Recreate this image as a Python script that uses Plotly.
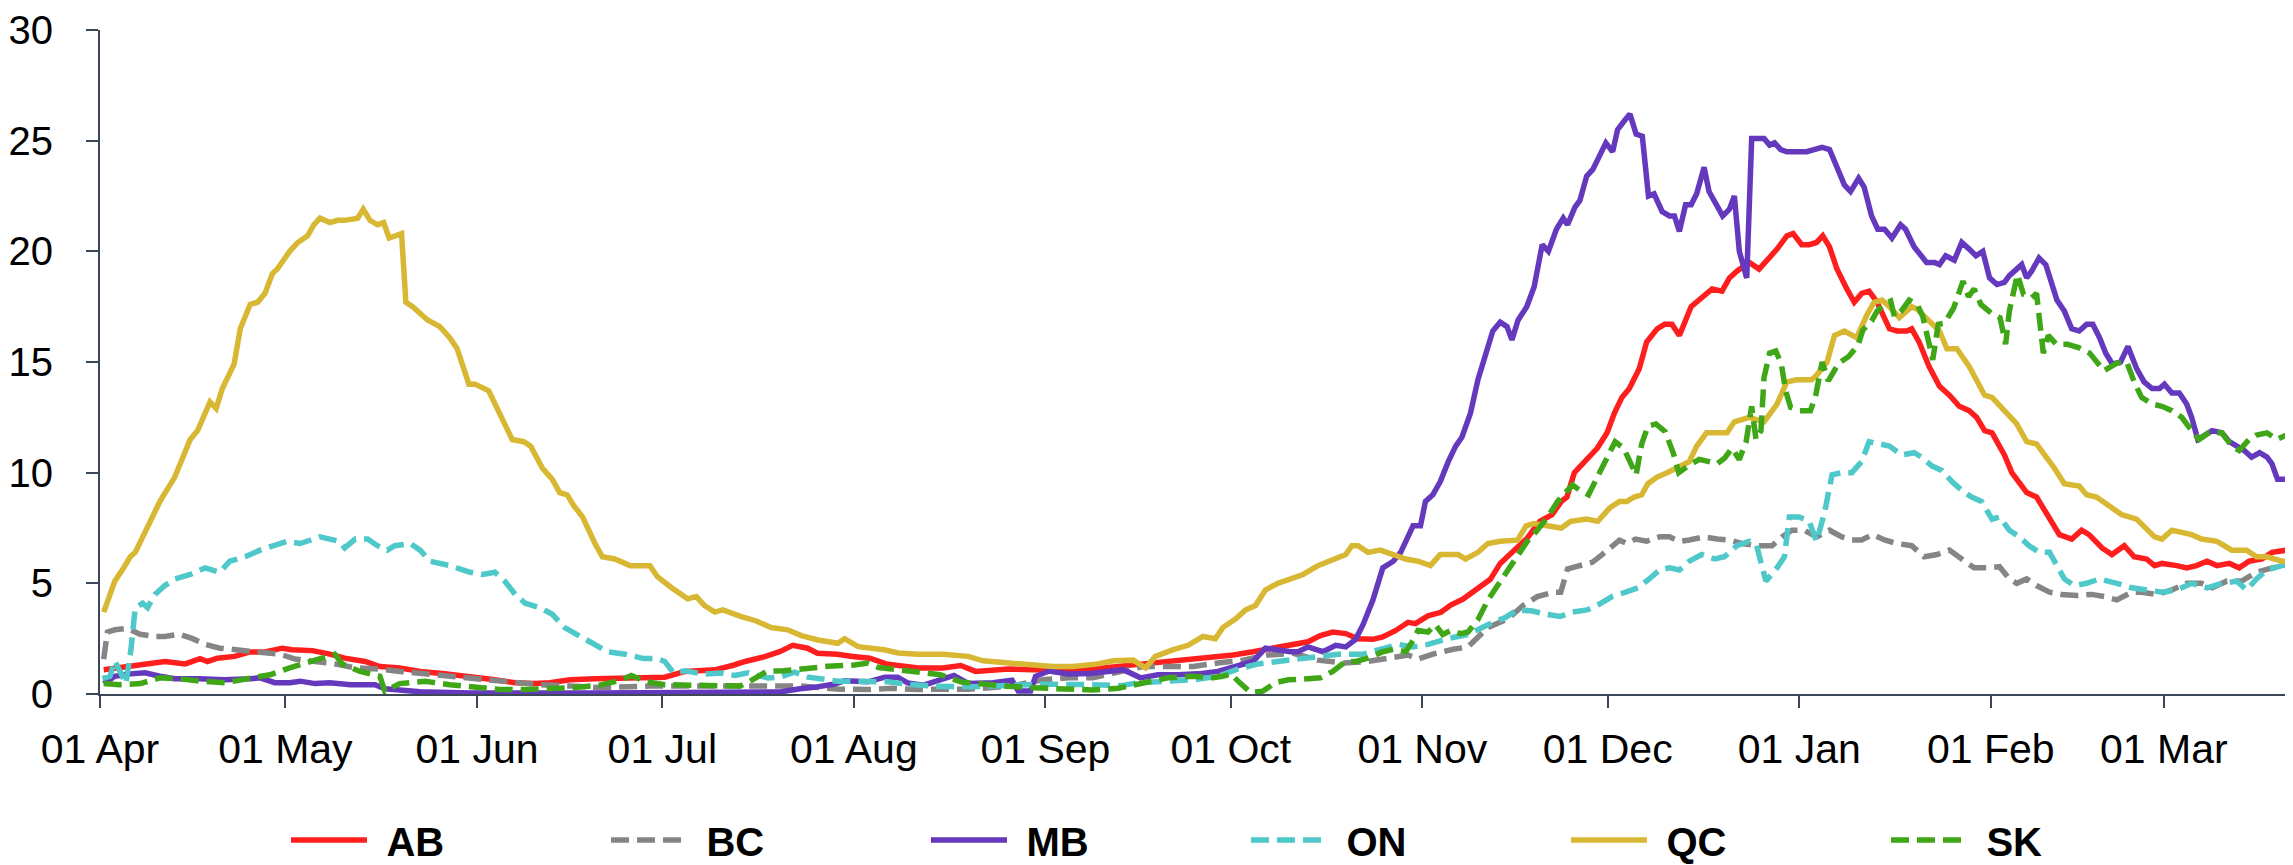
import pandas as pd
import plotly.graph_objects as go

START = "2020-04-01"

AB_days = [0.6,4.9,8.1,10.5,13.8,16.2,17.4,19.0,21.8,24.3,26.7,29.5,31.1,34.4,37.2,39.6,42.9,45.3,48.5,51.8,55.8,59.9,63.9,67.2,70.4,72.8,76.1,80.1,84.1,87.4,91.4,94.7,99.5,102.5,104.4,107.6,110.0,112.1,114.5,116.1,119.3,121.8,124.6,127.2,132.4,136.4,139.3,141.7,147.0,151.0,156.7,162.3,166.4,169.6,174.5,179.3,183.4,186.6,189.8,193.1,195.5,197.5,199.5,201.6,203.6,206.0,207.6,209.7,211.7,212.9,214.9,217.0,218.6,220.6,222.6,225.0,226.6,229.2,231.0,233.0,235.0,236.5,237.4,238.6,240.3,242.3,243.9,245.1,246.3,247.5,249.1,250.3,252.0,253.2,254.4,255.6,257.5,259.2,260.9,262.5,263.7,264.9,266.9,268.5,270.2,271.4,273.0,274.0,275.4,276.6,277.8,278.8,279.9,281.1,282.7,283.9,285.1,286.3,287.6,289.6,290.8,292.4,293.2,294.4,296.0,297.7,299.3,300.9,302.5,303.7,305.0,306.2,308.2,309.4,311.0,311.8,313.4,315.1,317.1,319.1,320.7,321.9,324.0,325.6,327.6,329.2,331.2,332.5,333.7,336.1,337.7,339.3,341.0,342.6,344.6,346.2,347.8,349.9,351.5,353.9,355.7]
AB_vals = [1.1,1.24,1.36,1.47,1.36,1.6,1.47,1.62,1.7,1.9,1.9,2.07,2.0,1.96,1.8,1.62,1.47,1.24,1.18,1.02,0.91,0.8,0.64,0.51,0.47,0.51,0.64,0.69,0.73,0.73,0.76,1.02,1.09,1.3,1.47,1.69,1.91,2.2,2.07,1.84,1.8,1.69,1.62,1.36,1.18,1.18,1.29,1.02,1.13,1.09,1.09,1.18,1.29,1.36,1.47,1.62,1.76,1.91,2.07,2.24,2.36,2.64,2.8,2.73,2.5,2.47,2.58,2.87,3.24,3.18,3.53,3.69,4.02,4.29,4.73,5.18,5.9,6.55,7.05,7.8,8.1,8.7,8.9,10.0,10.5,11.1,11.8,12.7,13.4,13.8,14.7,15.9,16.5,16.7,16.7,16.2,17.5,17.9,18.3,18.2,18.8,19.1,19.5,19.2,19.7,20.1,20.7,20.8,20.3,20.3,20.4,20.7,20.2,19.2,18.3,17.7,18.1,18.2,17.7,16.5,16.4,16.4,16.5,15.9,14.8,13.9,13.5,13.0,12.8,12.5,11.9,11.8,10.8,10.0,9.4,9.1,8.9,8.1,7.2,7.0,7.4,7.2,6.6,6.3,6.7,6.2,6.1,5.8,5.9,5.8,5.7,5.8,6.0,5.8,5.9,5.7,6.0,6.1,6.4,6.5,6.6]

BC_days = [0.6,1.2,2.4,4.4,6.5,8.9,10.5,12.9,15.0,17.0,19.4,21.8,24.3,26.7,29.1,31.6,34.8,38.0,41.3,45.3,48.5,52.6,56.6,61.5,66.3,71.2,76.1,80.9,89.0,97.1,105.2,113.3,119.7,124.3,128.3,132.4,136.4,140.5,144.5,148.6,152.6,156.7,160.7,164.8,168.8,172.8,176.9,180.9,185.0,189.0,193.1,197.1,201.2,205.2,209.3,211.7,213.3,215.7,219.0,221.4,224.6,227.9,230.3,232.6,235.3,236.4,237.5,239.5,241.5,243.1,244.5,245.9,247.1,248.5,250.3,252.4,254.0,255.6,257.2,259.6,261.7,263.7,265.7,268.1,270.6,272.2,273.8,275.8,277.8,279.9,281.9,283.5,285.1,286.9,288.8,290.8,293.2,295.2,297.3,299.3,301.3,303.3,305.4,307.4,309.0,310.2,311.8,313.4,315.5,317.5,319.9,322.3,324.4,326.4,328.8,330.4,332.9,335.3,337.7,340.1,341.8,344.2,346.6,349.0,351.5,353.9,355.7]
BC_vals = [1.58,2.8,2.9,2.96,2.7,2.6,2.6,2.7,2.5,2.24,2.07,2.0,1.9,1.84,1.8,1.58,1.47,1.36,1.18,1.13,1.02,0.91,0.8,0.69,0.58,0.42,0.36,0.29,0.36,0.37,0.36,0.36,0.22,0.2,0.26,0.2,0.22,0.22,0.29,0.42,0.64,0.73,0.73,1.02,1.24,1.24,1.24,1.4,1.53,1.76,1.84,1.53,1.4,1.47,1.62,1.76,1.58,1.8,2.02,2.13,3.0,3.4,4.0,4.4,4.6,4.6,5.65,5.8,5.95,6.3,6.6,6.95,6.8,7.0,6.9,7.1,7.1,6.9,6.96,7.1,7.0,6.96,6.8,6.7,6.7,7.1,7.4,7.4,7.1,7.4,7.1,6.96,6.96,7.2,6.96,6.8,6.7,6.2,6.3,6.5,6.1,5.7,5.7,5.75,5.2,5.0,5.2,4.9,4.6,4.5,4.45,4.5,4.4,4.25,4.6,4.6,4.5,4.7,5.0,5.0,4.8,5.1,5.1,5.5,5.7,5.8,5.9]

MB_days = [0.6,2.4,4.9,7.3,9.7,12.1,16.2,20.2,24.3,25.9,28.3,30.7,32.4,34.8,37.2,40.5,44.5,46.1,51.8,60,80,100,110.2,113.3,115.6,118.9,120.5,124.3,127.0,129.1,130.7,133.3,135.9,138.2,140.5,144.5,147.6,148.6,150.6,151.4,153.6,156.7,160.3,163.1,165.6,168.4,171.2,174.5,177.7,180.9,183.8,186.6,188.6,190.6,192.7,193.9,195.5,197.9,200.0,201.6,203.2,204.4,206.0,207.6,209.3,210.5,212.5,213.7,214.5,215.7,216.9,218.2,219.4,220.4,221.8,223.0,224.2,225.4,226.6,227.7,228.5,229.5,230.9,232.1,233.4,234.4,235.7,236.8,237.5,238.7,239.5,240.6,241.6,242.8,243.7,244.8,245.6,246.7,247.6,248.6,249.6,250.6,251.5,252.8,254.0,254.8,255.6,256.6,257.5,258.4,259.6,260.4,261.7,262.6,263.7,264.5,265.3,266.5,267.3,269.3,270.2,271.0,272.0,273.0,276.2,277.4,278.7,279.9,281.1,282.3,283.3,284.6,285.5,286.7,287.7,288.8,290.0,291.4,292.2,293.6,295.6,296.9,297.7,298.7,300.1,301.3,302.5,303.6,304.7,305.8,307.0,308.2,309.0,310.2,311.0,311.8,312.6,313.8,314.9,316.7,317.9,319.1,320.3,321.5,322.5,323.6,324.6,325.7,327.0,328.2,329.6,330.8,332.1,333.3,334.1,335.3,336.5,337.7,338.5,339.5,340.5,341.8,343.4,344.6,345.8,347.0,348.2,349.5,350.7,351.5,352.4,353.9,355.1,355.9]
MB_vals = [0.47,0.8,0.91,0.96,0.8,0.69,0.69,0.64,0.69,0.73,0.51,0.51,0.58,0.47,0.51,0.42,0.42,0.24,0.1,0.05,0.05,0.05,0.1,0.24,0.3,0.45,0.6,0.55,0.76,0.76,0.5,0.4,0.66,0.84,0.48,0.51,0.62,0.13,0.13,0.8,1.04,0.9,0.93,1.02,1.1,0.73,0.87,0.87,0.91,1.02,1.24,1.47,2.07,1.98,1.91,1.91,2.13,1.91,2.2,2.13,2.47,3.13,4.24,5.7,6.0,6.4,7.6,7.6,8.7,9.0,9.6,10.5,11.2,11.6,12.7,14.2,15.4,16.4,16.8,16.6,16.0,16.9,17.5,18.4,20.3,20.0,21.0,21.5,21.2,22.0,22.3,23.4,23.7,24.4,24.9,24.5,25.5,25.9,26.2,25.3,25.2,22.5,22.6,21.8,21.6,21.6,20.9,22.1,22.1,22.6,23.8,22.7,22.0,21.6,21.9,22.5,20.0,18.8,25.1,25.1,24.8,24.9,24.6,24.5,24.5,24.6,24.7,24.6,23.8,23.0,22.7,23.3,22.9,21.6,21.0,21.0,20.6,21.2,21.0,20.2,19.5,19.5,19.4,19.8,19.6,20.4,20.1,19.8,20.0,18.8,18.5,18.6,18.9,19.2,19.4,18.8,19.1,19.7,19.4,17.8,17.3,16.5,16.4,16.7,16.7,16.1,15.4,14.9,15.0,15.7,14.7,14.1,13.8,13.8,14.0,13.6,13.6,13.1,12.5,11.5,11.7,11.9,11.8,11.4,11.2,11.0,10.7,10.9,10.7,10.4,9.7,9.7,9.9,10.1]

ON_days = [0.4,1.6,2.4,3.4,4.2,5.0,5.7,6.9,7.7,8.9,10.5,12.1,14.6,17.0,19.4,21.0,23.5,25.9,28.3,30.3,32.4,33.6,35.6,37.2,38.7,39.6,41.3,43.3,44.9,46.5,47.7,50.2,51.8,53.4,56.6,59.9,61.9,63.9,65.5,67.2,68.8,71.2,73.2,75.2,77.7,80.1,82.2,85.0,88.0,90.2,91.4,92.8,94.7,97.5,100.5,102.7,104.9,108.1,110.2,112.4,114.6,117.3,119.4,124.3,127.5,130.7,135.1,141.5,146.9,152.3,158.8,165.3,168.0,172.8,176.9,180.9,184.2,187.4,190.6,193.9,197.1,200.4,204.4,207.6,210.1,212.5,214.9,218.2,221.4,224.6,227.5,229.4,231.8,234.2,236.3,238.3,240.7,242.6,244.7,246.9,248.9,250.5,252.4,254.0,255.6,257.2,259.2,261.3,262.9,264.9,266.9,268.1,268.9,269.6,271.4,272.6,273.4,275.0,276.6,277.8,279.1,280.3,281.9,283.5,285.1,286.3,288.0,289.6,291.6,293.6,294.8,296.5,298.1,299.7,301.3,302.9,304.5,306.2,307.4,309.0,310.6,312.2,313.8,315.5,316.7,317.9,319.5,321.5,323.6,325.2,326.4,328.8,331.2,333.7,336.1,338.5,341.0,343.4,345.8,347.4,349.0,350.7,353.1,355.7]
ON_vals = [0.7,0.8,1.5,0.9,0.47,2.0,3.9,4.1,3.9,4.5,4.9,5.2,5.4,5.7,5.5,6.0,6.2,6.5,6.7,6.9,6.8,6.9,7.1,7.0,6.9,6.6,7.0,7.0,6.7,6.5,6.7,6.8,6.5,6.0,5.8,5.5,5.4,5.5,5.1,4.5,4.1,3.9,3.6,3.0,2.6,2.2,1.9,1.8,1.6,1.6,1.47,0.95,1.05,0.9,0.95,0.84,0.96,0.72,0.78,0.99,0.76,0.66,0.58,0.56,0.55,0.44,0.35,0.33,0.4,0.44,0.43,0.38,0.51,0.58,0.64,0.8,1.13,1.36,1.47,1.53,1.69,1.8,1.8,2.07,2.24,2.13,2.24,2.51,2.69,3.13,3.47,3.8,3.75,3.6,3.5,3.7,3.8,4.05,4.4,4.6,4.8,5.15,5.6,5.7,5.6,6.0,6.3,6.1,6.2,6.7,6.9,6.7,5.9,5.1,5.7,6.2,8.0,8.0,7.8,6.9,8.2,9.9,10.0,10.0,10.5,11.4,11.3,11.2,10.8,10.9,10.7,10.3,10.1,9.6,9.2,8.9,8.7,7.9,8.0,7.4,7.1,6.7,6.4,6.4,5.8,5.2,4.9,5.0,5.2,5.1,5.0,4.8,4.7,4.6,4.7,5.0,4.8,5.0,5.1,4.7,5.2,5.6,5.8,6.0]

QC_days = [0.6,2.4,3.6,4.9,5.7,7.7,9.7,12.1,14.6,15.8,17.8,18.8,19.8,21.7,22.7,24.3,25.5,26.7,27.9,28.7,30.7,32.0,33.6,34.6,35.6,37.2,38.4,39.6,40.9,41.7,42.6,43.7,44.9,45.9,46.8,48.8,49.5,50.6,53.0,55.0,56.6,57.8,59.7,60.7,62.9,64.7,66.7,68.6,69.7,71.6,73.2,74.4,75.6,76.7,78.1,80.1,81.3,83.3,85.8,89.0,90.2,92.5,95.1,96.5,97.8,99.5,100.8,103.8,106.2,108.6,111.3,113.5,116.2,119.4,120.5,122.7,126.9,129.2,132.4,136.4,140.5,142.9,147.0,151.0,154.2,157.5,161.5,164.0,167.2,169.2,170.8,173.7,176.1,178.5,180.5,181.7,183.8,185.4,187.0,188.6,190.6,192.7,194.7,197.1,199.5,201.6,202.6,203.6,205.2,207.2,209.3,211.3,213.3,215.3,216.9,219.8,221.0,223.0,224.6,226.6,229.4,230.8,232.0,234.2,236.5,238.0,240.6,242.4,244.3,245.9,247.1,248.3,249.5,250.5,252.0,253.6,255.2,257.2,258.4,260.0,261.7,263.3,264.5,266.9,269.3,271.4,273.0,274.6,277.0,277.8,279.5,280.7,282.3,284.3,285.9,287.1,288.4,289.6,291.2,293.2,294.0,295.6,297.7,298.9,300.5,302.5,305.0,306.2,307.8,310.2,311.8,313.4,316.3,317.9,320.3,321.5,323.1,325.2,327.2,329.6,332.5,333.7,335.3,336.9,338.5,340.1,342.6,345.0,347.4,349.0,350.7,353.1,355.7]
QC_vals = [3.7,5.1,5.6,6.2,6.4,7.6,8.7,9.8,11.5,11.9,13.2,12.9,13.8,14.9,16.5,17.6,17.7,18.1,19.0,19.2,20.0,20.4,20.7,21.2,21.5,21.3,21.4,21.4,21.5,21.5,21.9,21.4,21.2,21.3,20.6,20.8,17.7,17.5,16.9,16.6,16.1,15.6,14.0,14.0,13.7,12.6,11.5,11.4,11.2,10.2,9.7,9.1,9.0,8.5,8.0,6.8,6.2,6.1,5.8,5.8,5.3,4.8,4.3,4.4,4.0,3.7,3.8,3.5,3.3,3.0,2.9,2.64,2.44,2.29,2.5,2.14,2.0,1.85,1.8,1.8,1.7,1.5,1.4,1.36,1.24,1.24,1.36,1.5,1.53,1.18,1.7,2.0,2.2,2.6,2.5,3.0,3.4,3.8,4.0,4.7,5.0,5.2,5.4,5.8,6.1,6.3,6.7,6.7,6.4,6.5,6.3,6.1,6.0,5.8,6.3,6.3,6.1,6.4,6.8,6.9,6.95,7.6,7.7,7.6,7.5,7.8,7.9,7.8,8.4,8.7,8.7,8.9,9.0,9.5,9.8,10.0,10.2,10.5,11.2,11.8,11.8,11.8,12.3,12.5,12.3,13.1,14.1,14.2,14.2,14.4,15.0,16.2,16.4,16.1,17.1,17.7,17.8,17.5,17.0,17.5,17.4,17.0,16.4,15.6,15.6,14.8,13.5,13.4,12.9,12.2,11.4,11.3,10.2,9.5,9.4,9.0,8.9,8.5,8.1,7.9,7.1,7.0,7.4,7.3,7.2,7.0,6.9,6.5,6.5,6.2,6.2,6.0,6.0]

SK_days = [0.6,3.2,6.5,9.7,12.9,16.2,20.2,24.3,27.5,30.7,34.0,36.4,38.0,39.2,42.1,45.3,46.1,48.5,52.6,56.6,60.7,64.7,68.8,72.8,76.9,80.9,84.0,86.0,88.2,91.4,95.5,100.3,103.6,105.2,108.0,110.6,113.8,117.8,122.1,124.3,126.0,128.3,132.4,136.0,139.4,142.6,146.9,151.2,156.7,160.7,164.8,168.8,172.8,176.9,180.1,181.7,183.0,184.6,186.2,188.2,190.2,192.3,193.9,195.5,197.5,199.5,201.6,203.2,205.2,207.6,209.3,211.3,212.5,213.3,214.9,216.1,217.3,218.6,220.2,221.4,223.0,224.6,226.2,227.9,229.5,231.0,232.6,234.3,235.9,237.1,238.3,239.5,240.9,242.5,244.0,245.2,246.6,247.5,248.6,249.5,250.5,251.8,253.3,254.6,255.5,257.0,258.8,260.4,261.7,262.9,264.1,265.3,266.4,267.3,268.0,268.8,269.3,270.2,271.2,272.1,272.8,273.6,275.1,276.8,277.6,278.7,279.7,281.4,283.0,284.5,285.3,286.7,287.6,288.8,289.8,290.4,291.5,292.8,294.1,295.0,295.8,296.6,297.5,298.5,300.0,301.5,302.4,303.3,304.4,306.1,307.5,308.4,309.0,310.3,311.3,312.6,313.4,313.9,314.5,315.3,316.6,318.4,320.2,322.0,324.3,326.4,328.0,329.2,330.4,332.1,333.7,335.3,336.9,338.5,339.7,341.3,343.4,345.0,346.2,347.8,349.0,350.7,352.3,353.9,355.5]
SK_vals = [0.47,0.42,0.47,0.73,0.69,0.58,0.51,0.69,0.87,1.18,1.47,1.62,1.8,1.36,1.02,0.8,0.13,0.47,0.58,0.42,0.29,0.2,0.2,0.24,0.29,0.4,0.6,0.84,0.56,0.42,0.4,0.4,0.36,0.58,1.04,1.05,1.15,1.25,1.31,1.4,1.2,1.13,0.98,0.87,0.54,0.45,0.35,0.28,0.2,0.18,0.26,0.47,0.73,0.8,0.73,0.8,0.91,0.47,0.07,0.13,0.51,0.64,0.64,0.69,0.73,1.02,1.47,1.47,1.62,1.91,2.02,1.91,2.42,2.87,2.8,3.13,2.69,2.87,2.73,2.8,3.36,4.24,4.91,5.58,6.24,6.9,7.4,8.0,8.7,9.1,9.45,9.2,9.0,9.9,10.8,11.4,11.1,10.6,9.9,11.3,12.1,12.2,11.85,10.9,10.0,10.3,10.6,10.5,10.4,10.65,11.1,10.6,11.4,13.0,11.5,11.9,14.3,15.4,15.5,14.9,13.7,12.95,12.8,12.8,13.4,15.0,14.15,14.95,15.25,15.75,16.45,16.85,17.3,17.6,17.75,17.05,17.3,17.8,17.6,17.05,16.1,15.1,16.7,16.75,17.45,18.65,17.95,18.3,17.6,17.2,17.0,15.8,17.3,18.95,18.05,17.9,18.1,17.0,15.4,16.2,15.8,15.8,15.65,15.4,14.6,14.95,15.0,14.1,13.4,13.1,13.0,12.8,12.5,11.9,11.5,11.8,11.8,11.2,11.0,11.5,11.7,11.8,11.5,11.7,12.2]

SERIES = ["AB", "BC", "MB", "ON", "QC", "SK"]
COLORS = {"AB": "#FF1E1E", "BC": "#858585", "MB": "#6539BE",
          "ON": "#4FC8CA", "QC": "#D8B733", "SK": "#3FA617"}
DASHES = {"AB": "solid", "BC": "18px,8px", "MB": "solid",
          "ON": "18px,8px", "QC": "solid", "SK": "18px,8px"}
DATA = {"AB": (AB_days, AB_vals), "BC": (BC_days, BC_vals), "MB": (MB_days, MB_vals),
        "ON": (ON_days, ON_vals), "QC": (QC_days, QC_vals), "SK": (SK_days, SK_vals)}

base = pd.Timestamp(START)
FONT = "Liberation Sans, Arial, sans-serif"
AXIS_COLOR = "#3b4656"
LEGEND_PAD = "\u00a0\u200a"

fig = go.Figure()
for name in SERIES:
    d, v = DATA[name]
    x = base + pd.to_timedelta(d, unit="D")
    fig.add_trace(go.Scatter(
        x=x, y=v, mode="lines", name=LEGEND_PAD + name,
        line=dict(color=COLORS[name], width=5.5, dash=DASHES[name]),
    ))

x_end = base + pd.to_timedelta(356.2, unit="D")

fig.update_layout(
    width=2293, height=865,
    margin=dict(l=92, r=0, t=20, b=170),
    paper_bgcolor="white", plot_bgcolor="white",
    font=dict(family=FONT, size=40, color="black"),
    showlegend=True,
    legend=dict(
        orientation="h", x=0.0845, xanchor="left", y=-0.22, yanchor="middle",
        font=dict(family=FONT, size=40, color="black", weight="bold"),
        itemwidth=76, entrywidth=229, entrywidthmode="pixels",
        bgcolor="rgba(0,0,0,0)",
    ),
    xaxis=dict(
        type="date", range=[base, x_end],
        tick0=START, dtick="M1", tickformat="%d %b",
        showgrid=False, zeroline=False,
        showline=True, linecolor=AXIS_COLOR, linewidth=2,
        ticks="outside", ticklen=12, tickwidth=2, tickcolor=AXIS_COLOR,
        tickfont=dict(family=FONT, size=41, color="black"),
        ticklabelstandoff=6, ticklabeloverflow="allow", layer="below traces",
    ),
    yaxis=dict(
        range=[0, 30], tick0=0, dtick=5,
        showgrid=False, zeroline=False,
        showline=True, linecolor=AXIS_COLOR, linewidth=2,
        ticks="outside", ticklen=12, tickwidth=2, tickcolor=AXIS_COLOR,
        tickfont=dict(family=FONT, size=40, color="black"),
        ticklabelstandoff=25, ticklabeloverflow="allow", layer="below traces",
    ),
)

fig.write_html("out.html")
